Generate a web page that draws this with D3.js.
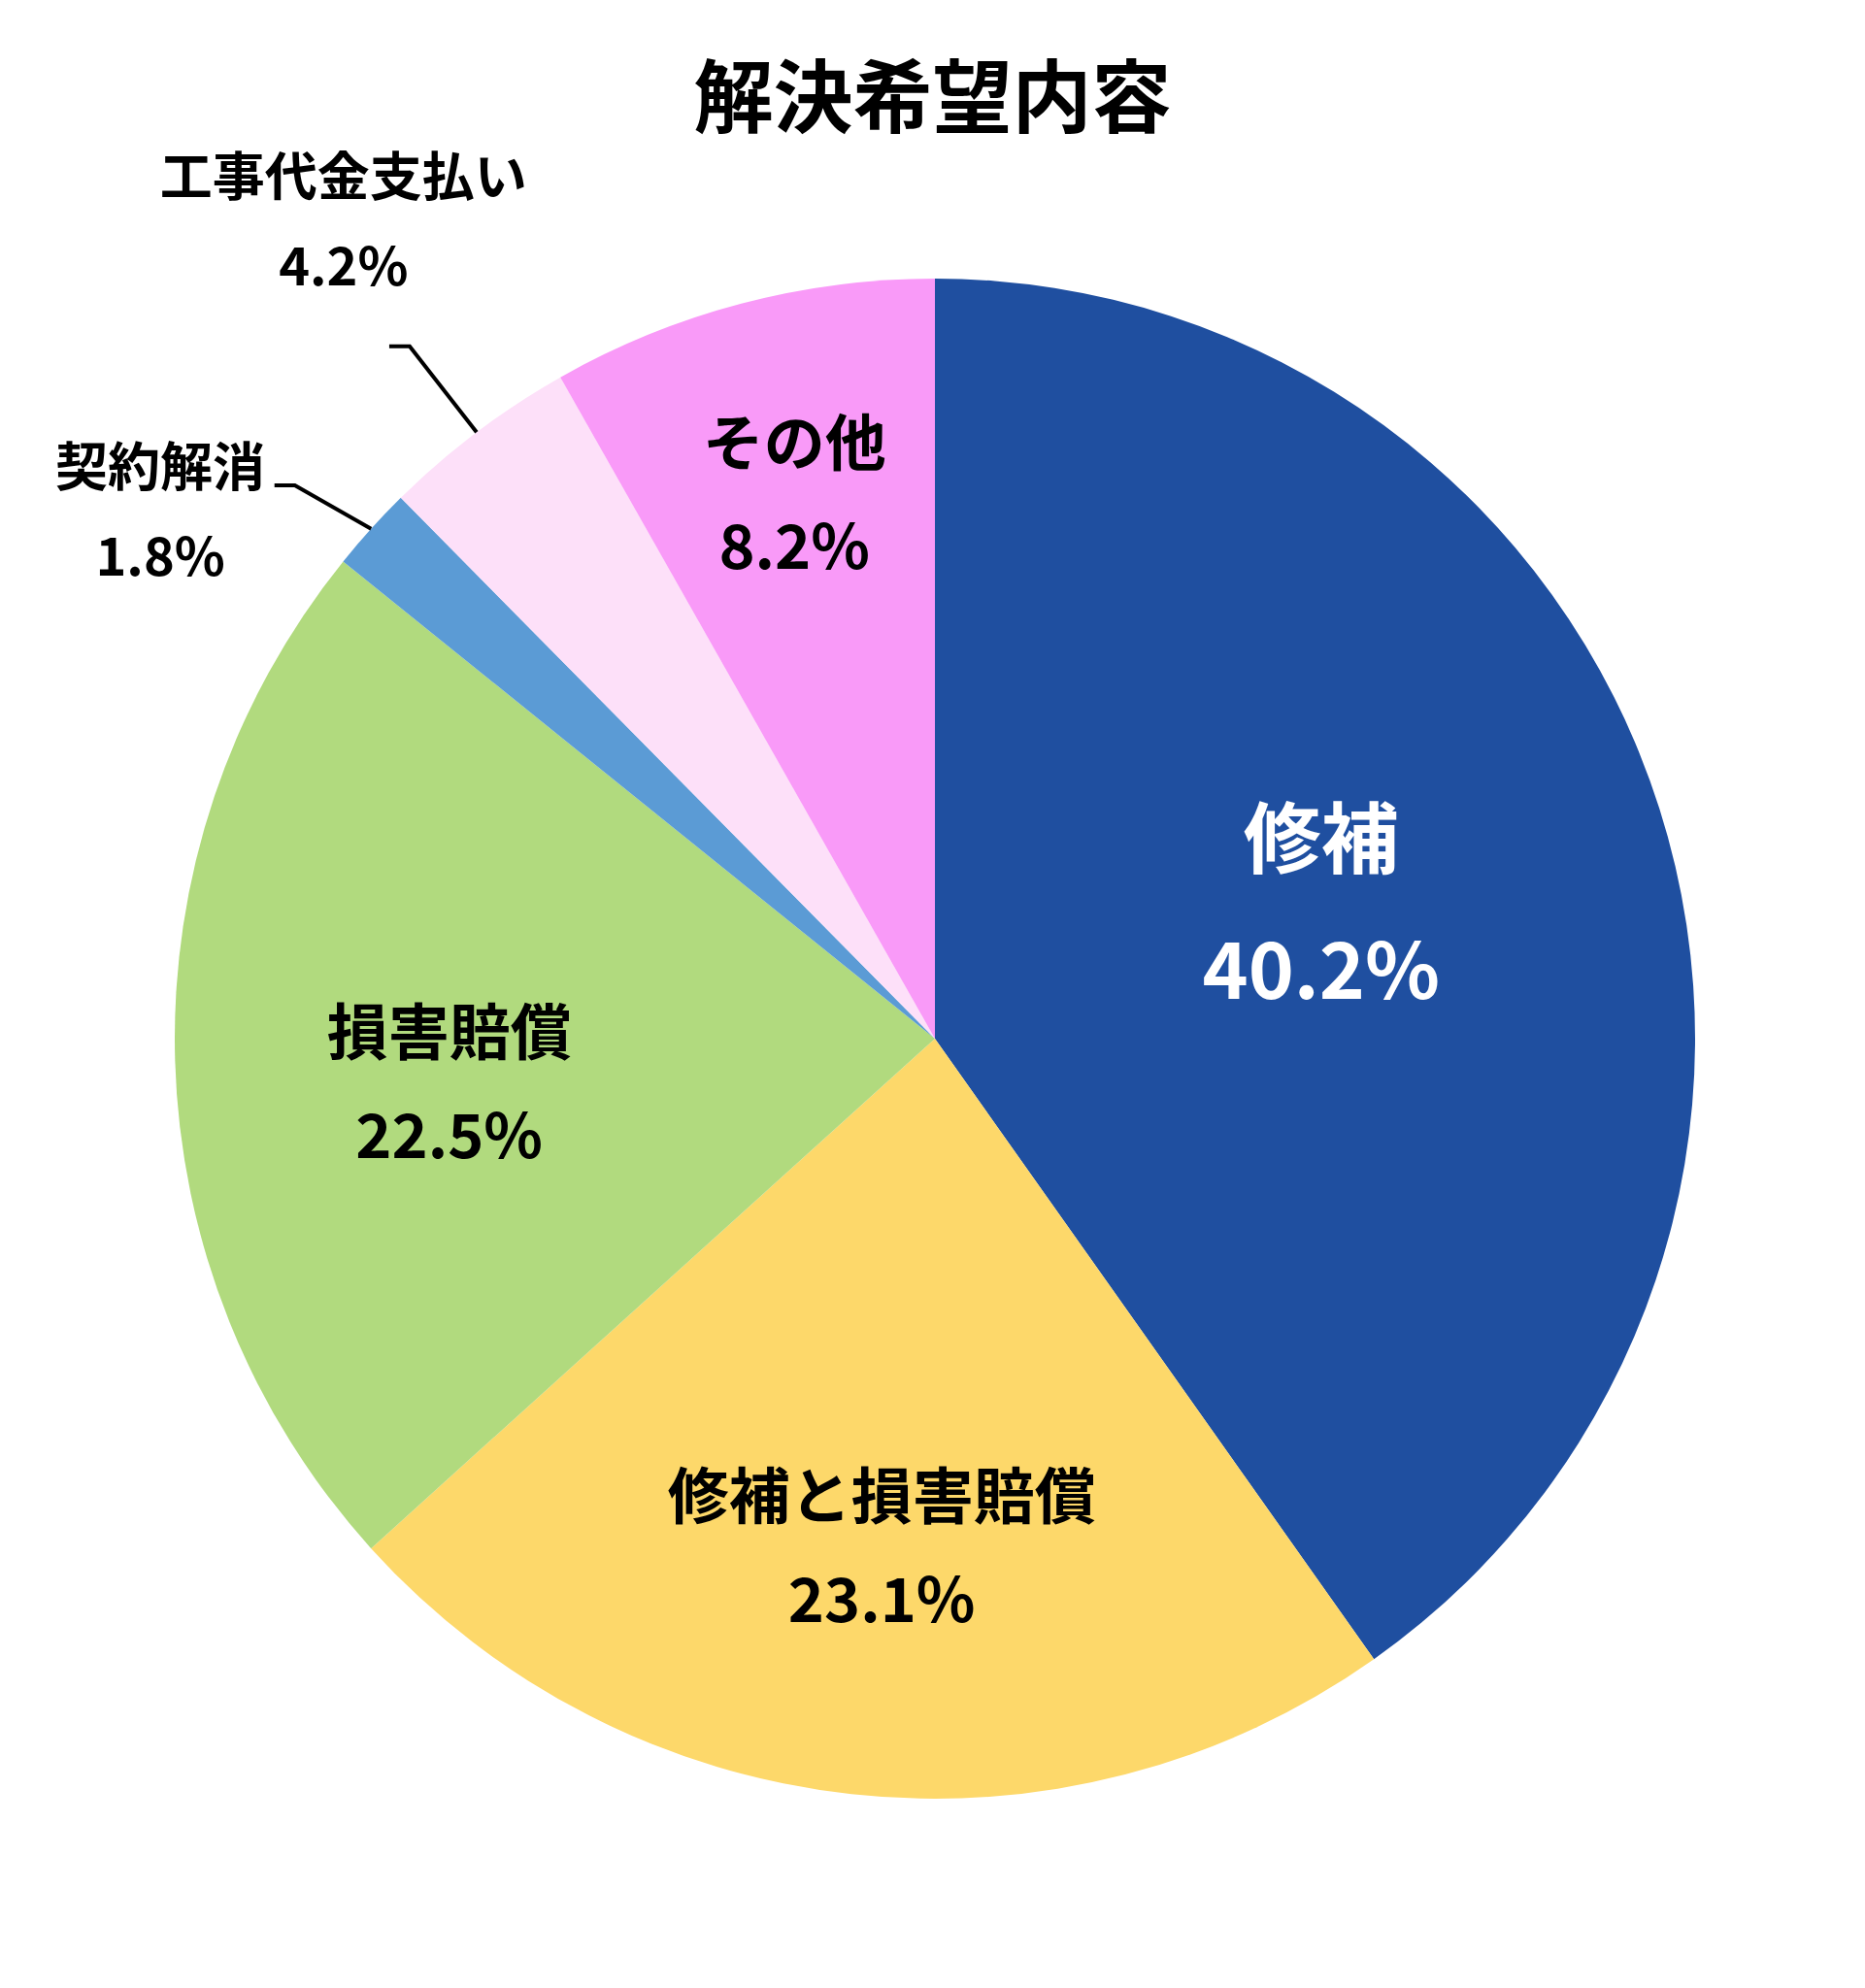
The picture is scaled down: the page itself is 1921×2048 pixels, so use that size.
<!DOCTYPE html>
<html>
<head>
<meta charset="utf-8">
<script src="https://cdn.jsdelivr.net/npm/d3@7"></script>
<style>
  body { margin: 0; background: #ffffff; }
  text { font-family: "Noto Sans CJK JP", "Noto Sans", sans-serif; font-weight: 700; }
</style>
</head>
<body>
<div id="chart"></div>
<script>
// data
const categories = ["修補", "修補と損害賠償", "損害賠償", "契約解消", "工事代金支払い", "その他"];
const values = [40.2, 23.1, 22.5, 1.8, 4.2, 8.2];
const title = "解決希望内容";

const colors = ["#1f4fa0", "#fdd86a", "#b1da7e", "#5b9bd5", "#fde0f9", "#f99af8"];

// label placement, in units of the radius from the centre of the pie
const labelLayout = {
    "修補":           { dx: 0.508, dy: -0.176, size: 80, fill: "#ffffff" },
    "修補と損害賠償": { dx: -0.070, dy: 0.670, size: 63, fill: "#000000" },
    "損害賠償":       { dx: -0.639, dy: 0.060, size: 63, fill: "#000000" },
    "契約解消":       { dx: -1.019, dy: -0.693, size: 54, fill: "#000000", elbow: [-0.842, -0.728] },
    "工事代金支払い": { dx: -0.778, dy: -1.075, size: 54, fill: "#000000", elbow: [-0.691, -0.911] },
    "その他":         { dx: -0.185, dy: -0.716, size: 63, fill: "#000000" }
};

const width = 1921;
const height = 2048;
const cx = 963, cy = 1070;
const radius = 783;

const svg = d3.select("#chart")
    .append("svg")
    .attr("width", width)
    .attr("height", height);

svg.append("rect")
    .attr("width", width)
    .attr("height", height)
    .attr("fill", "#ffffff");

// title
svg.append("text")
    .attr("x", width / 2)
    .attr("y", 100 + 0.36 * 82)
    .attr("text-anchor", "middle")
    .attr("font-size", 82)
    .attr("fill", "#000000")
    .text(title);

const data = categories.map((c, i) => ({ name: c, value: values[i] }));

const color = d3.scaleOrdinal()
    .domain(categories)
    .range(colors);

const pie = d3.pie()
    .sort(null)
    .value(d => d.value);

const arc = d3.arc()
    .innerRadius(0)
    .outerRadius(radius);

const edge = d3.arc()
    .innerRadius(radius)
    .outerRadius(radius);

const g = svg.append("g")
    .attr("transform", "translate(" + cx + "," + cy + ")");

const arcs = pie(data);

g.selectAll(".slice")
    .data(arcs)
    .enter()
    .append("path")
    .attr("class", "slice")
    .attr("d", arc)
    .attr("fill", d => color(d.data.name));

// leader lines for the small slices
const outside = arcs.filter(d => labelLayout[d.data.name].elbow);

g.selectAll(".leader")
    .data(outside)
    .enter()
    .append("polyline")
    .attr("class", "leader")
    .attr("fill", "none")
    .attr("stroke", "#000000")
    .attr("stroke-width", 4)
    .attr("points", d => {
        const start = edge.centroid(d);
        const e = labelLayout[d.data.name].elbow;
        const elbow = [e[0] * radius, e[1] * radius];
        const end = [elbow[0] - 21, elbow[1]];
        return [start, elbow, end].map(p => p.join(",")).join(" ");
    });

// labels: name and percentage
const labels = g.selectAll(".label")
    .data(arcs)
    .enter()
    .append("g")
    .attr("class", "label")
    .attr("transform", d => {
        const l = labelLayout[d.data.name];
        return "translate(" + (l.dx * radius) + "," + (l.dy * radius) + ")";
    });

labels.append("text")
    .attr("text-anchor", "middle")
    .attr("font-size", d => labelLayout[d.data.name].size)
    .attr("fill", d => labelLayout[d.data.name].fill)
    .attr("y", d => {
        const s = labelLayout[d.data.name].size;
        return -0.85 * s + 0.36 * s;
    })
    .text(d => d.data.name);

labels.append("text")
    .attr("text-anchor", "middle")
    .attr("font-size", d => labelLayout[d.data.name].size)
    .attr("fill", d => labelLayout[d.data.name].fill)
    .attr("y", d => {
        const s = labelLayout[d.data.name].size;
        return 0.85 * s + 0.36 * s;
    })
    .text(d => d.data.value.toFixed(1) + "%");
</script>
</body>
</html>
